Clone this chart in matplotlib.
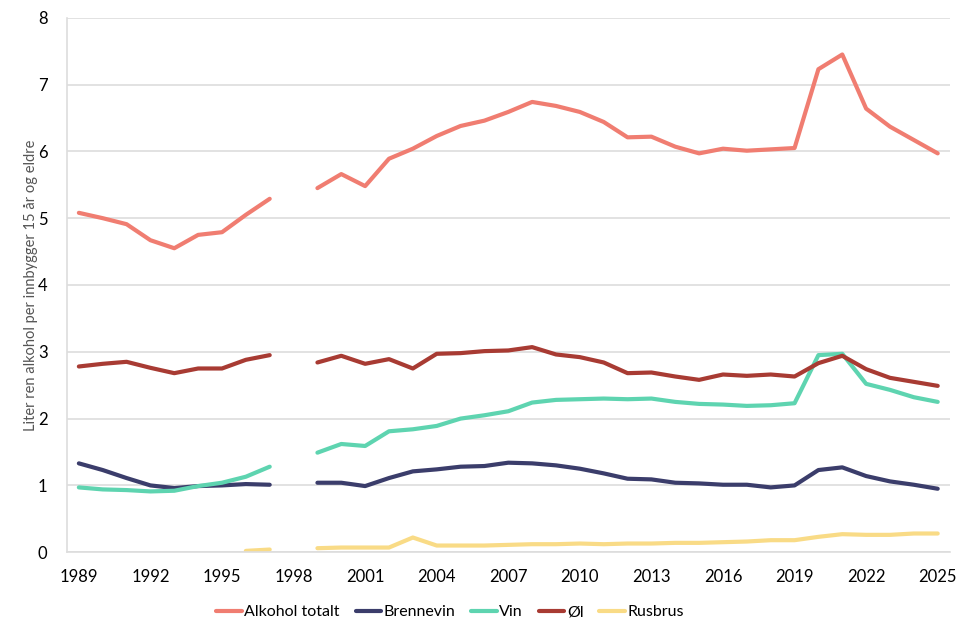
import numpy as np
import matplotlib
matplotlib.use('Agg')
import matplotlib.pyplot as plt

plt.rcParams['font.family'] = ['Lato', 'DejaVu Sans']

years = list(range(1989, 2026))
nan = np.nan

# 1998 mangler i alle serier
alkohol_totalt = [5.08, 5.00, 4.91, 4.67, 4.55, 4.75, 4.79, 5.05, 5.29, nan,
                  5.45, 5.66, 5.48, 5.89, 6.04, 6.23, 6.38, 6.46, 6.59, 6.74,
                  6.68, 6.59, 6.44, 6.21, 6.22, 6.07, 5.97, 6.04, 6.01, 6.03,
                  6.05, 7.23, 7.45, 6.64, 6.37, 6.17, 5.97]
brennevin = [1.33, 1.23, 1.11, 1.00, 0.96, 0.99, 1.00, 1.02, 1.01, nan,
             1.04, 1.04, 0.99, 1.11, 1.21, 1.24, 1.28, 1.29, 1.34, 1.33,
             1.30, 1.25, 1.18, 1.10, 1.09, 1.04, 1.03, 1.01, 1.01, 0.97,
             1.00, 1.23, 1.27, 1.14, 1.06, 1.01, 0.95]
vin = [0.97, 0.94, 0.93, 0.91, 0.92, 0.99, 1.04, 1.13, 1.28, nan,
       1.49, 1.62, 1.59, 1.81, 1.84, 1.89, 2.00, 2.05, 2.11, 2.24,
       2.28, 2.29, 2.30, 2.29, 2.30, 2.25, 2.22, 2.21, 2.19, 2.20,
       2.23, 2.95, 2.97, 2.52, 2.43, 2.32, 2.25]
ol = [2.78, 2.82, 2.85, 2.76, 2.68, 2.75, 2.75, 2.88, 2.95, nan,
      2.84, 2.94, 2.82, 2.89, 2.75, 2.97, 2.98, 3.01, 3.02, 3.07,
      2.96, 2.92, 2.84, 2.68, 2.69, 2.63, 2.58, 2.66, 2.64, 2.66,
      2.63, 2.83, 2.94, 2.74, 2.61, 2.55, 2.49]
rusbrus = [nan, nan, nan, nan, nan, nan, nan, 0.02, 0.04, nan,
           0.06, 0.07, 0.07, 0.07, 0.22, 0.10, 0.10, 0.10, 0.11, 0.12,
           0.12, 0.13, 0.12, 0.13, 0.13, 0.14, 0.14, 0.15, 0.16, 0.18,
           0.18, 0.23, 0.27, 0.26, 0.26, 0.28, 0.28]

series = [
    ('Alkohol totalt', alkohol_totalt, '#F07D71'),
    ('Brennevin', brennevin, '#3B3D6B'),
    ('Vin', vin, '#5ED4B0'),
    ('Øl', ol, '#A83B33'),
    ('Rusbrus', rusbrus, '#F9DB86'),
]

fig = plt.figure(figsize=(9.7, 6.34), dpi=100)
ax = fig.add_axes([0.069, 0.129, 0.91, 0.843])

for name, vals, col in series:
    ax.plot(years, vals, color=col, lw=3, label=name, solid_capstyle='round')

ax.set_xlim(1988.5, 2025.5)
ax.set_ylim(0, 8)
ax.set_xticks(range(1989, 2026, 3))
ax.set_yticks(range(0, 9))
ax.tick_params(axis='both', length=0, labelsize=12, colors='black')
ax.tick_params(axis='x', pad=12)
ax.tick_params(axis='y', pad=14)
ax.grid(axis='y', color='#DDDDDD', lw=1.2)
ax.set_axisbelow(True)
for side in ['top', 'right']:
    ax.spines[side].set_visible(False)
for side in ['left', 'bottom']:
    ax.spines[side].set_color('#DDDDDD')
    ax.spines[side].set_linewidth(1.2)

ax.set_ylabel('Liter ren alkohol per innbygger 15 år og eldre', fontsize=10.5,
              color='#555555', labelpad=0)

ax.legend(loc='upper center', bbox_to_anchor=(0.434, -0.072), ncol=5, frameon=False,
          fontsize=11.5, handlelength=1.6, handletextpad=0.15, columnspacing=1.0)

fig.savefig('out.png', dpi=100)
